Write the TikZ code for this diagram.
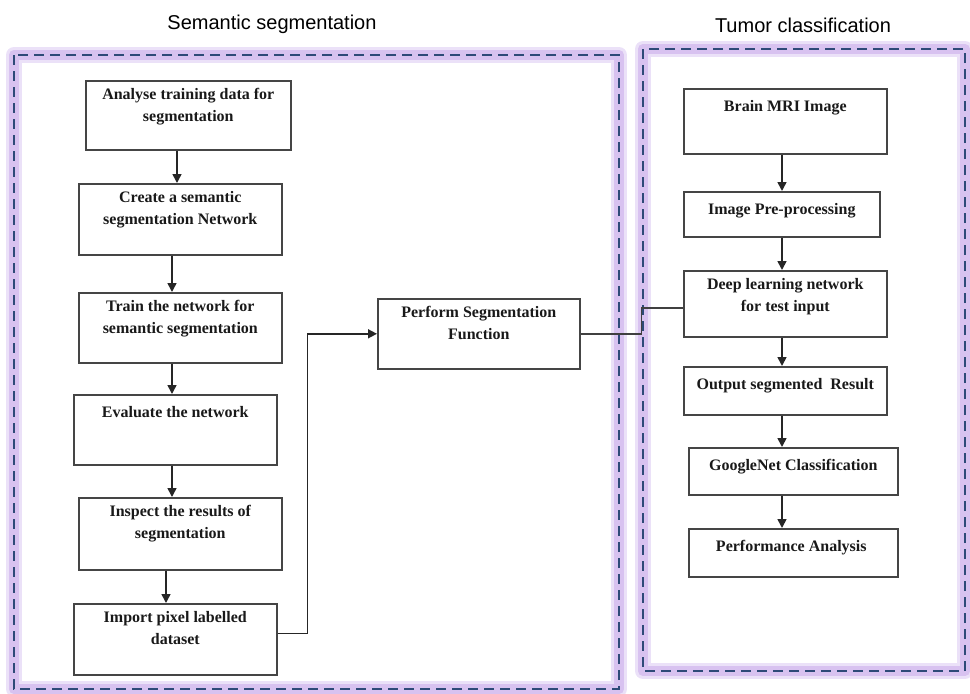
\documentclass[tikz,border=0pt]{standalone}
\usepackage{fontspec}
\setmainfont{Liberation Serif}
\newfontfamily\titlefont{Liberation Sans}
\usetikzlibrary{arrows.meta}

\definecolor{boxline}{HTML}{454545}
\definecolor{glow}{HTML}{C7A8EA}
\definecolor{dashblue}{HTML}{2E4A78}

\tikzset{
    box/.style={draw=boxline, line width=1.6pt, inner sep=0pt, anchor=north west},
    txt/.style={font=\bfseries\fontsize{16}{22}\selectfont, align=center, anchor=north,
        inner sep=0pt, text=black!90, execute at begin node=\strut},
    arr/.style={draw=black!85, line width=1.6pt, -{Triangle[length=9pt,width=9pt]}},
    link/.style={draw=black!75, line width=1.4pt},
    title/.style={font=\titlefont\fontsize{20}{24}\selectfont},
}

\begin{document}
\begin{tikzpicture}[x=1pt, y=-1pt]
    \useasboundingbox (0,0) rectangle (970,694);

    % Glowing dashed frames round the two stages
    \foreach \fx/\fy/\gx/\gy in {14/55/619/689, 643/49/965/671}{
        \draw[glow!35, line width=16pt, line join=round] (\fx,\fy) rectangle (\gx,\gy);
        \draw[glow!70, line width=10pt, line join=round] (\fx,\fy) rectangle (\gx,\gy);
        \draw[dashblue, line width=2.4pt, dash pattern=on 10pt off 6pt] (\fx,\fy) rectangle (\gx,\gy);
    }

    % Stage titles
    \node[title] (segtitle) at (272,24) {Semantic segmentation};
    \node[title] (clstitle) at (803,25) {Tumor classification};

    % Boxes: name / left / top / width / height / text
    \foreach \id/\x/\y/\w/\h/\t in {
        ana/85/80/205/69/{Analyse training data for\\segmentation},
        sem/78/183/203/71/{Create a semantic\\segmentation Network},
        trn/78/292/203/70/{Train the network for\\semantic segmentation},
        evl/73/394/203/70/{Evaluate the network},
        ins/78/497/203/72/{Inspect the results of\\segmentation},
        imp/73/603/203/71/{Import pixel labelled\\dataset},
        perf/377/298/202/70/{Perform Segmentation\\Function},
        mri/683/88/203/65/{Brain MRI Image},
        pre/683/191/196/45/{Image Pre-processing},
        deep/683/270/203/66/{Deep learning network\\for test input},
        out/683/366/203/48/{Output segmented\ \ Result},
        gnet/688/447/209/47/{GoogleNet Classification},
        pan/688/528/209/48/{Performance Analysis}
    }{
        \node[box, minimum width=\w pt, minimum height=\h pt] (\id) at (\x,\y) {};
        \node[txt] (\id-t) at ([yshift=-8pt]\id.north) {\t};
    }

    % Segmentation steps
    \foreach \a/\b/\x in {ana/sem/177, sem/trn/172, trn/evl/172, evl/ins/172, ins/imp/166}
        \draw[arr] (\a.south -| \x,0) -- (\b.north -| \x,0);

    % Classification steps
    \foreach \a/\b in {mri/pre, pre/deep, deep/out, out/gnet, gnet/pan}
        \draw[arr] (\a.south -| 782,0) -- (\b.north -| 782,0);

    % Links between the stages
    \draw[arr] ([yshift=6pt]imp.east) -- ++(30,0) |- (perf.west);
    \draw[link] (perf.east) -- ++(61,0) |- ([yshift=-4pt]deep.west);
\end{tikzpicture}
\end{document}
